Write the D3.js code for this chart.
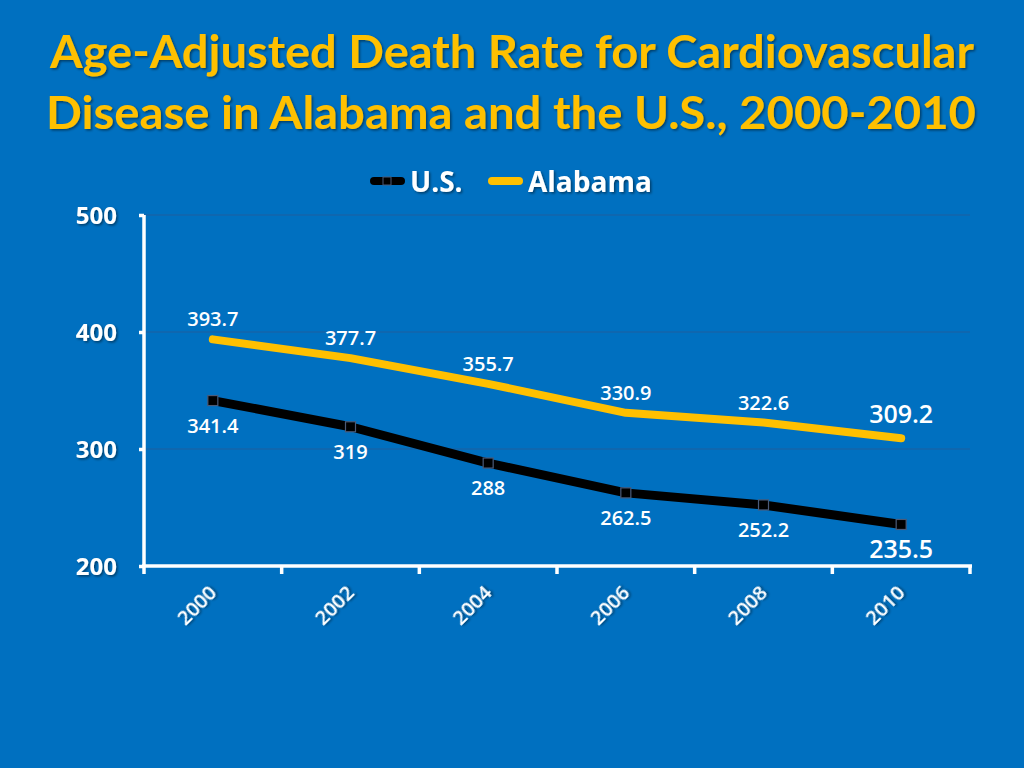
<!DOCTYPE html>
<meta charset="utf-8">
<script src="https://d3js.org/d3.v7.min.js"></script>
<style>
  body { margin: 0; background: #0070C0; }
  svg { display: block; }
  text { font-family: "Open Sans", "Noto Sans", sans-serif; }
</style>
<div id="chart"></div>
<script>
  // data
  var years = ["2000", "2002", "2004", "2006", "2008", "2010"];
  var usValues = [341.4, 319, 288, 262.5, 252.2, 235.5];
  var alabamaValues = [393.7, 377.7, 355.7, 330.9, 322.6, 309.2];
  var usLabels = ["341.4", "319", "288", "262.5", "252.2", "235.5"];
  var alabamaLabels = ["393.7", "377.7", "355.7", "330.9", "322.6", "309.2"];
  var yTicks = [200, 300, 400, 500];

  var W = 1024, H = 768;
  var yellow = "#FFC000";

  var svg = d3.select("#chart").append("svg")
    .attr("width", W).attr("height", H);

  var defs = svg.append("defs");
  var f = defs.append("filter").attr("id", "shadow")
    .attr("x", "-10%").attr("y", "-10%").attr("width", "120%").attr("height", "140%");
  f.append("feDropShadow").attr("dx", 1.5).attr("dy", 1.5)
    .attr("stdDeviation", 1).attr("flood-color", "#000").attr("flood-opacity", 0.45);

  svg.append("rect").attr("width", W).attr("height", H).attr("fill", "#0070C0");

  // title
  var title = svg.append("g").attr("filter", "url(#shadow)");
  title.append("text").attr("x", 512).attr("y", 68)
    .attr("text-anchor", "middle").attr("textLength", 924).attr("lengthAdjust", "spacingAndGlyphs")
    .style("font-family", "Lato, sans-serif")
    .style("font-size", "46px").style("font-weight", "bold").attr("fill", yellow)
    .text("Age-Adjusted Death Rate for Cardiovascular");
  title.append("text").attr("x", 511).attr("y", 129)
    .attr("text-anchor", "middle").attr("textLength", 930).attr("lengthAdjust", "spacingAndGlyphs")
    .style("font-family", "Lato, sans-serif")
    .style("font-size", "46px").style("font-weight", "bold").attr("fill", yellow)
    .text("Disease in Alabama and the U.S., 2000-2010");

  var x = d3.scaleBand().domain(years).range([144, 970]);
  var y = d3.scaleLinear().domain([200, 500]).range([566, 215]);

  // gridlines
  svg.append("g").selectAll("line")
    .data(yTicks.slice(1))
    .enter().append("line")
    .attr("x1", 144).attr("x2", 970)
    .attr("y1", d => y(d)).attr("y2", d => y(d))
    .attr("stroke", "#1F5E9E").attr("stroke-width", 1.2);

  // y axis
  var yAxis = svg.append("g").attr("transform", "translate(144,0)")
    .call(d3.axisLeft(y).tickValues(yTicks).tickSize(5).tickPadding(22));
  yAxis.select(".domain").attr("stroke", "#fff").attr("stroke-width", 3.5)
    .attr("d", "M0," + y(500) + "V" + y(200));
  yAxis.selectAll(".tick line").attr("stroke", "#fff").attr("stroke-width", 3.5);
  yAxis.selectAll(".tick text").attr("fill", "#fff").attr("filter", "url(#shadow)")
    .style("font-size", "24px").style("font-weight", "bold")
    .style("font-family", "\"Open Sans\", sans-serif").attr("dy", "0.35em");

  // x axis
  var xAxis = svg.append("g").attr("transform", "translate(0,566)")
    .call(d3.axisBottom(x).tickSize(0).tickPadding(0));
  xAxis.select(".domain").attr("stroke", "#fff").attr("stroke-width", 3.5)
    .attr("d", "M142,0H972");
  xAxis.selectAll(".tick text").attr("fill", "#fff").attr("filter", "url(#shadow)")
    .style("font-size", "20px").style("font-weight", "600")
    .style("font-family", "\"Open Sans\", sans-serif")
    .attr("text-anchor", "end").attr("y", 0).attr("dy", 0)
    .attr("transform", "translate(5,28) rotate(-45)");
  // category boundary ticks
  svg.append("g").selectAll("line")
    .data(years.map(d => x(d)).concat([x.range()[1]]))
    .enter().append("line")
    .attr("x1", d => d).attr("x2", d => d)
    .attr("y1", 566).attr("y2", 574)
    .attr("stroke", "#fff").attr("stroke-width", 3.5);

  var cx = d => x(d) + x.bandwidth() / 2;
  var line = d3.line().x(d => cx(d.year)).y(d => y(d.v));

  var al = years.map((d, i) => ({ year: d, v: alabamaValues[i], label: alabamaLabels[i] }));
  var us = years.map((d, i) => ({ year: d, v: usValues[i], label: usLabels[i] }));

  svg.append("path").datum(al).attr("d", line)
    .attr("fill", "none").attr("stroke", yellow).attr("stroke-width", 8)
    .attr("stroke-linecap", "round").attr("stroke-linejoin", "round");

  svg.append("path").datum(us).attr("d", line)
    .attr("fill", "none").attr("stroke", "#000").attr("stroke-width", 9)
    .attr("stroke-linejoin", "round");

  svg.append("g").selectAll("rect")
    .data(us).enter().append("rect")
    .attr("x", d => cx(d.year) - 5).attr("y", d => y(d.v) - 5)
    .attr("width", 10).attr("height", 10)
    .attr("fill", "#000").attr("stroke", "#4A5A78").attr("stroke-width", 1.2);

  // data labels
  svg.append("g").selectAll("text")
    .data(al).enter().append("text")
    .attr("x", d => cx(d.year))
    .attr("y", (d, i) => i === 5 ? y(d.v) - 15 : y(d.v) - 13)
    .attr("text-anchor", "middle").attr("fill", "#fff")
    .style("font-size", (d, i) => i === 5 ? "25px" : "20px").style("font-weight", "600")
    .text(d => d.label);

  svg.append("g").selectAll("text")
    .data(us).enter().append("text")
    .attr("x", d => cx(d.year))
    .attr("y", (d, i) => i === 5 ? y(d.v) + 34 : y(d.v) + 32)
    .attr("text-anchor", "middle").attr("fill", "#fff")
    .style("font-size", (d, i) => i === 5 ? "25px" : "20px").style("font-weight", "600")
    .text(d => d.label);

  // legend
  var legend = svg.append("g");
  var series = [
    { name: "U.S.", color: "#000", x: 370, marker: true },
    { name: "Alabama", color: yellow, x: 488, marker: false }
  ];
  series.forEach(s => {
    legend.append("line").attr("x1", s.x + 4).attr("x2", s.x + 31)
      .attr("y1", 181).attr("y2", 181)
      .attr("stroke", s.color).attr("stroke-width", 8).attr("stroke-linecap", "round");
    if (s.marker) {
      legend.append("rect").attr("x", s.x + 13).attr("y", 177).attr("width", 8).attr("height", 8)
        .attr("fill", "#000").attr("stroke", "#4A5A78").attr("stroke-width", 1);
    }
    legend.append("text").attr("x", s.x + 40).attr("y", 192)
      .attr("fill", "#fff").attr("filter", "url(#shadow)")
      .style("font-size", "28px").style("font-weight", "bold")
      .text(s.name);
  });
</script>
